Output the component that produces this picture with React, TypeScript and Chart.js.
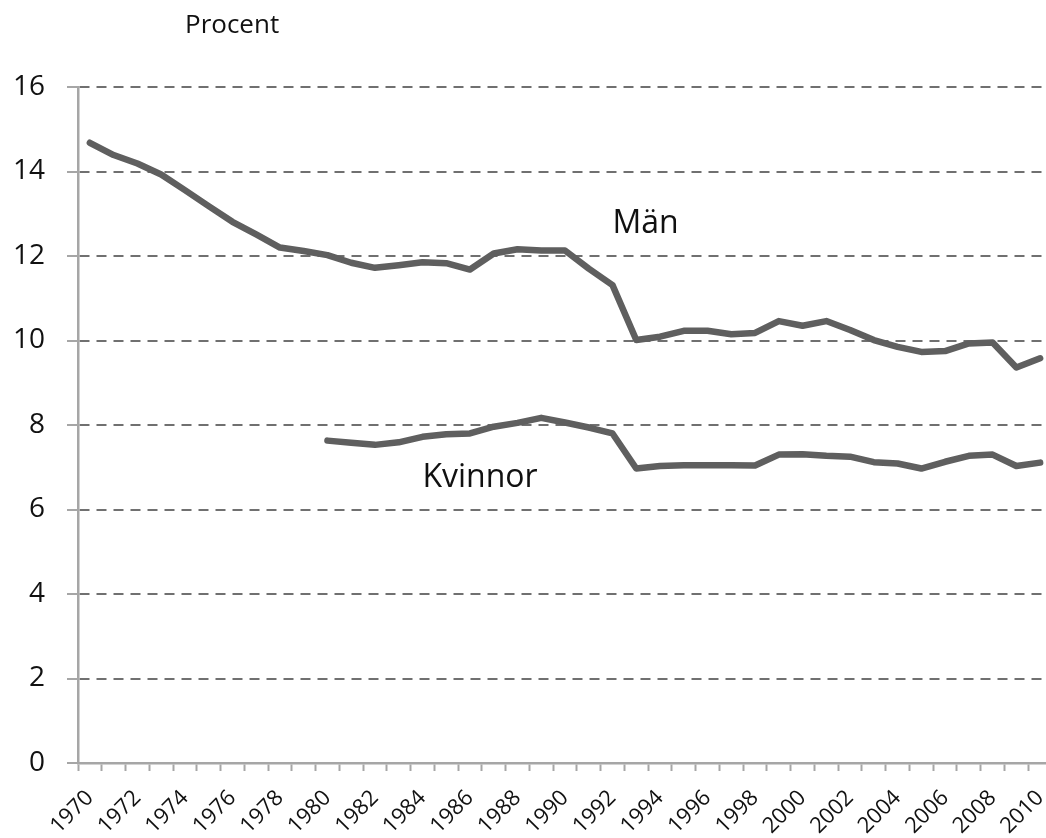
import React, { useEffect, useRef } from "react";
import { Chart, registerables } from "chart.js";

Chart.register(...registerables);

const years: string[] = [];
for (let y = 1970; y <= 2010; y++) years.push(String(y));

const menValues: (number | null)[] = [
  14.68, 14.39, 14.19, 13.93, 13.56, 13.18, 12.81, 12.51, 12.2, 12.12,
  12.02, 11.84, 11.72, 11.78, 11.85, 11.83, 11.68, 12.06, 12.16, 12.13,
  12.13, 11.7, 11.31, 10.01, 10.09, 10.23, 10.23, 10.15, 10.18, 10.46,
  10.35, 10.46, 10.25, 10.01, 9.85, 9.73, 9.75, 9.93, 9.95, 9.36, 9.58,
];

const womenValues: (number | null)[] = [
  null, null, null, null, null, null, null, null, null, null,
  7.63, 7.58, 7.53, 7.59, 7.72, 7.78, 7.8, 7.96, 8.05, 8.17,
  8.06, 7.94, 7.8, 6.97, 7.03, 7.05, 7.05, 7.05, 7.04, 7.3,
  7.31, 7.27, 7.25, 7.12, 7.09, 6.97, 7.13, 7.27, 7.3, 7.03, 7.11,
];

const seriesNames = ["Män", "Kvinnor"];
const yAxisTitle = "Procent";

// label anchors in data coordinates (category, value)
const labelAnchors = [
  { text: seriesNames[0], year: "1992", value: 12.54 },
  { text: seriesNames[1], year: "1984", value: 6.53 },
];

const FONT = "'Open Sans', 'Liberation Sans', sans-serif";
const LINE_COLOR = "#5f5f5f";
const AXIS_COLOR = "#a6a6a6";
const GRID_COLOR = "#707070";

const textPlugin = {
  id: "textLabels",
  afterDatasetsDraw(chart: any) {
    const { ctx, scales, chartArea } = chart;
    const xs = scales.x;
    const ys = scales.y;
    ctx.save();
    ctx.fillStyle = "#111";
    ctx.textAlign = "left";
    ctx.textBaseline = "alphabetic";
    ctx.font = `32px ${FONT}`;
    labelAnchors.forEach((a) => {
      const idx = years.indexOf(a.year);
      ctx.fillText(a.text, xs.getPixelForValue(idx), ys.getPixelForValue(a.value));
    });
    ctx.font = `26px ${FONT}`;
    ctx.fillText(yAxisTitle, chartArea.left + 107, chartArea.top - 54);
    ctx.restore();
  },
};

export default function App() {
  const ref = useRef<HTMLCanvasElement | null>(null);

  useEffect(() => {
    document.body.style.margin = "0";
    document.body.style.overflow = "hidden";
    if (!ref.current) return;
    const chart = new Chart(ref.current, {
      type: "line",
      data: {
        labels: years,
        datasets: [
          {
            label: seriesNames[0],
            data: menValues,
            borderColor: LINE_COLOR,
            borderWidth: 6.5,
            pointRadius: 0,
            tension: 0,
            borderCapStyle: "round",
            borderJoinStyle: "round",
            spanGaps: false,
          },
          {
            label: seriesNames[1],
            data: womenValues,
            borderColor: LINE_COLOR,
            borderWidth: 6.5,
            pointRadius: 0,
            tension: 0,
            borderCapStyle: "round",
            borderJoinStyle: "round",
            spanGaps: false,
          },
        ],
      },
      options: {
        animation: false,
        responsive: false,
        maintainAspectRatio: false,
        layout: { padding: { top: 87, right: 0, left: 0, bottom: 0 } },
        plugins: {
          legend: { display: false },
          tooltip: { enabled: false },
          title: { display: false },
        },
        scales: {
          x: {
            type: "category",
            offset: true,
            afterFit: (s: any) => {
              s.height = 75;
              s.paddingLeft = 0;
              s.paddingRight = 0;
            },
            grid: {
              display: true,
              drawOnChartArea: false,
              offset: true,
              drawTicks: true,
              tickLength: 8,
              color: AXIS_COLOR,
              tickColor: AXIS_COLOR,
              tickWidth: 2,
            },
            border: { display: true, color: AXIS_COLOR, width: 2.5 },
            ticks: {
              autoSkip: false,
              maxRotation: 45,
              minRotation: 45,
              padding: 14,
              color: "#111",
              font: { family: FONT, size: 22 },
              callback: (_v: any, i: number) => (i % 2 === 0 ? years[i] : ""),
            },
          },
          y: {
            min: 0,
            max: 16,
            afterFit: (s: any) => {
              s.width = 78;
            },
            grid: {
              display: true,
              drawTicks: true,
              tickLength: 11,
              lineWidth: 2,
              color: (c: any) => (c.tick && c.tick.value === 0 ? "rgba(0,0,0,0)" : GRID_COLOR),
              tickColor: AXIS_COLOR,
              tickWidth: 2,
              tickBorderDash: [],
            } as any,
            border: { display: true, color: AXIS_COLOR, width: 2.5, dash: [10, 7] } as any,
            ticks: {
              stepSize: 2,
              padding: 22,
              color: "#111",
              font: { family: FONT, size: 28 },
            },
          },
        },
      } as any,
      plugins: [textPlugin],
    });
    return () => chart.destroy();
  }, []);

  return (
    <div style={{ position: "fixed", left: 0, top: 0, width: 1052, height: 838 }}>
      <canvas ref={ref} width={1052} height={838} style={{ width: 1052, height: 838 }} />
    </div>
  );
}
